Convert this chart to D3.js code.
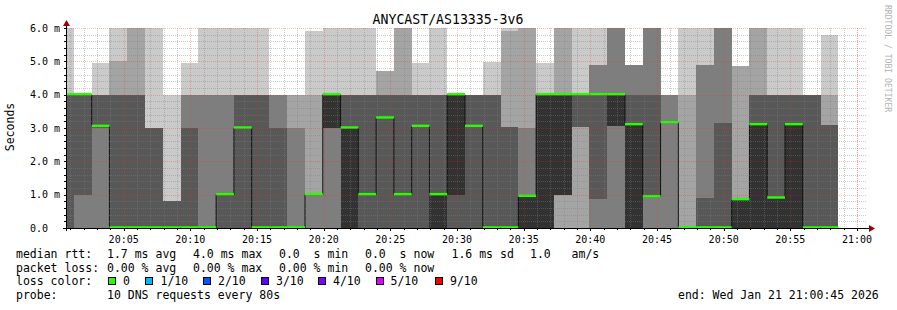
<!DOCTYPE html>
<html>
<head>
<meta charset="utf-8">
<script src="https://cdn.jsdelivr.net/npm/d3@7"></script>
<style>
  body { margin: 0; background: #fff; }
  text { font-family: "DejaVu Sans Mono", monospace; white-space: pre; }
</style>
</head>
<body>
<div id="chart"></div>
<script>
// 10 sorted ping times (ms) per 80 s step, p1 fastest .. p10 slowest
var p1  = [0,0,0,0,0,0,0,0,0,0, 0,0,0,0,0,0,0,0,0,0, 0,0,0,0,0,0,0,0,0,0, 0,0,0,0,0,0,0,0,0,0, 0,0,0,0];
var p2  = [0,0,0,0,0,0,0,0,0,0, 0,0,0,0,0,0,0,0,0,0, 0,0,0,0,0,0,0,0,0,0, 0,0,0,0,0,0,0,0,0,0, 0,0,0,0];
var p3  = [0,0,0,0,0,0,0,0,0,0, 0,0,0,0,0,0,0,0,0,0, 0,0,0,0,0,0,0,0,1,3.04, 0,0,0,0,0,0,0,0,0,0, 0,0,0,0];
var p4  = [0,1,3,0,0,0,0,0,0,0, 0,0,0,0,1,3,0,0,0,0, 0,0,0,0,0,0,0,0,1,3.04, 0.87,3.05,0,0.94,3.16,0,0,0,0,0, 0,0,0,0];
var p5  = [4,4,3.05,0,0,0,0,0,0,1, 3,0,0,0,1,3,0,1,3.3,1, 3.05,0,1,3.05,0,0,0,0,1,4, 4,3.05,0,0.94,3.16,0,0,0,0,0, 0,0,0,0];
var p6  = [4,4,3.05,0,0,0,0,0,0,1, 3,0,0,0,1,4,3,1,3.3,1, 3.05,1,4,3.05,0,0,0.95,4,4,4, 4,4,3.1,0.94,3.16,0,0,0,0.85,3.1, 0.9,3.1,0,0];
var p7  = [4,4,4,4,4,3,0.8,3,0,1, 4,4,3,0,1,4,4,4,4,4, 4,4,4,4,4,3.04,0.95,4,4,4, 4,4,4,4,3.16,0,0.9,3.15,0.85,4, 4,4,4,3.1];
var p8  = [4,4,4,4,4,3,0.8,4,4,4, 4,4,4,3,1,4,4,4,4,4, 4,4,4,4,4,3.04,3,4,4,4, 4.9,6,4.9,6,4,0,4.9,6,0.85,4, 4,4,4,3.1];
var p9  = [4,4,4,5,6,3,0.8,4,4,4, 4,4,4,4,4,4,4,4,4.7,6, 4,4,4,4,4,5.9,6,4,6,4, 4.9,6,4.9,6,4,4,4.9,6,4.85,6, 4,4,4,4];
var p10 = [6,4,4.95,6,6,6,4,4.95,6,6, 6,6,4,4,5.9,6,6,6,4.7,6, 4.95,6,4,4,4.97,6,6,4.95,6,6, 6,6,4.9,6,4,6,6,6,4.85,6, 6,6,4,5.8];
var median = [4,4,3.05,0,0,0,0,0,0,1, 3,0,0,0,1,4,3,1,3.3,1, 3.05,1,4,3.05,0,0,0.95,4,4,4, 4,4,3.1,0.94,3.16,0,0,0,0.85,3.1, 0.9,3.1,0,0];

var yTicks = [0, 1, 2, 3, 4, 5, 6];
var xTickLabels = ["20:05","20:10","20:15","20:20","20:25","20:30","20:35","20:40","20:45","20:50","20:55","21:00"];
var lossLabels = ["0", "1/10", "2/10", "3/10", "4/10", "5/10", "9/10"];
var lossColors = ["#26ff00", "#00b8ff", "#0059ff", "#5e00ff", "#7e00ff", "#dd00ff", "#ff0000"];
var smokeColors = ["#cacaca", "#a4a4a4", "#7e7e7e", "#585858", "#323232"];

var width = 897, height = 310;
var plot = {left: 67, right: 867, top: 28, bottom: 228};

var start = new Date(2026, 0, 21, 20, 0, 45),
    end = new Date(2026, 0, 21, 21, 0, 45),
    firstStep = new Date(2026, 0, 21, 20, 1, 16),
    step = 80 * 1000;

var pings = [p1, p2, p3, p4, p5, p6, p7, p8, p9, p10];
var cols = median.map(function (m, i) {
      var t0 = new Date(firstStep.getTime() + (i - 1) * step);
      return {
            t0: t0,
            t1: new Date(t0.getTime() + step),
            p: pings.map(function (a) { return Math.min(a[i], 6); }),
            median: m
      };
});

var x = d3.scaleTime().domain([start, end]).range([plot.left, plot.right]);
var y = d3.scaleLinear().domain([0, 6]).range([plot.bottom, plot.top]);

var svg = d3.select("#chart").append("svg")
      .attr("width", width)
      .attr("height", height)
      .style("display", "block");

svg.append("rect").attr("width", width).attr("height", height).attr("fill", "#fff");

svg.append("clipPath").attr("id", "plotclip")
      .append("rect")
      .attr("x", plot.left).attr("y", plot.top - 1)
      .attr("width", plot.right - plot.left).attr("height", plot.bottom - plot.top + 2);

var g = svg.append("g").attr("clip-path", "url(#plotclip)");

// smoke: outer pair first, each inner pair drawn over it
smokeColors.forEach(function (c, b) {
      g.append("g").selectAll("rect")
            .data(cols)
            .enter().append("rect")
            .attr("shape-rendering", "crispEdges")
            .attr("x", function (d) { return Math.round(x(d.t0)); })
            .attr("width", function (d) { return Math.round(x(d.t1)) - Math.round(x(d.t0)); })
            .attr("y", function (d) { return Math.round(y(d.p[9 - b])); })
            .attr("height", function (d) { return Math.round(y(d.p[b])) - Math.round(y(d.p[9 - b])); })
            .attr("fill", c);
});

// grid
var minorY = d3.range(0, 6.01, 0.2).filter(function (v) { return Math.abs(v - Math.round(v)) > 0.01; });
var minutes = d3.timeMinute.range(start, end);
var minorX = minutes.filter(function (t) { return t.getMinutes() % 5 !== 0; });
var majorX = minutes.filter(function (t) { return t.getMinutes() % 5 === 0; });
majorX.push(new Date(2026, 0, 21, 21, 0, 0));

var grid = svg.append("g").attr("stroke-dasharray", "1,1").attr("shape-rendering", "crispEdges");
grid.selectAll(".hmin").data(minorY).enter().append("line")
      .attr("x1", plot.left).attr("x2", plot.right)
      .attr("y1", function (d) { return Math.round(y(d)) + 0.5; })
      .attr("y2", function (d) { return Math.round(y(d)) + 0.5; })
      .attr("stroke", "rgba(128,128,128,0.4)");
grid.selectAll(".vmin").data(minorX).enter().append("line")
      .attr("y1", plot.top).attr("y2", plot.bottom)
      .attr("x1", function (d) { return Math.round(x(d)) + 0.5; })
      .attr("x2", function (d) { return Math.round(x(d)) + 0.5; })
      .attr("stroke", "rgba(128,128,128,0.4)");
grid.selectAll(".hmaj").data(yTicks.slice(1)).enter().append("line")
      .attr("x1", plot.left).attr("x2", plot.right)
      .attr("y1", function (d) { return Math.round(y(d)) + 0.5; })
      .attr("y2", function (d) { return Math.round(y(d)) + 0.5; })
      .attr("stroke", "rgba(255,40,40,0.3)");
grid.selectAll(".vmaj").data(majorX).enter().append("line")
      .attr("y1", plot.top).attr("y2", plot.bottom)
      .attr("x1", function (d) { return Math.round(x(d)) + 0.5; })
      .attr("x2", function (d) { return Math.round(x(d)) + 0.5; })
      .attr("stroke", "rgba(255,40,40,0.3)");

// median: thin dark step line, loss-coloured segments on top
var stepPts = cols.map(function (d) { return [x(d.t0), y(d.median)]; });
var last = cols[cols.length - 1];
stepPts.push([x(last.t1), y(last.median)]);
g.append("path")
      .attr("d", d3.line().curve(d3.curveStepAfter)(stepPts))
      .attr("fill", "none")
      .attr("stroke", "#111")
      .attr("stroke-width", 1);

g.append("g").selectAll("line")
      .data(cols)
      .enter().append("line")
      .attr("x1", function (d) { return x(d.t0); })
      .attr("x2", function (d) { return x(d.t1); })
      .attr("y1", function (d) { return y(d.median) - 0.5; })
      .attr("y2", function (d) { return y(d.median) - 0.5; })
      .attr("stroke", lossColors[0])
      .attr("stroke-width", 2.5);

// axes
var axisCol = "#000", arrowCol = "#9b0000";
svg.append("line").attr("x1", plot.left - 4).attr("x2", plot.right + 3)
      .attr("y1", plot.bottom + 0.5).attr("y2", plot.bottom + 0.5)
      .attr("stroke", axisCol);
svg.append("line").attr("x1", plot.left - 0.5).attr("x2", plot.left - 0.5)
      .attr("y1", plot.bottom + 3).attr("y2", plot.top - 3)
      .attr("stroke", axisCol);
svg.append("path").attr("d", "M" + (plot.right + 2) + "," + (plot.bottom - 3) + "L" + (plot.right + 8) + "," + (plot.bottom + 0.5) + "L" + (plot.right + 2) + "," + (plot.bottom + 4) + "Z")
      .attr("fill", arrowCol);
svg.append("path").attr("d", "M" + (plot.left - 4) + "," + (plot.top - 2) + "L" + (plot.left - 0.5) + "," + (plot.top - 8) + "L" + (plot.left + 3) + "," + (plot.top - 2) + "Z")
      .attr("fill", arrowCol);

// tick marks
svg.append("g").selectAll("line").data(minutes.concat([new Date(2026, 0, 21, 21, 0, 0)])).enter().append("line")
      .attr("x1", function (d) { return Math.round(x(d)) + 0.5; })
      .attr("x2", function (d) { return Math.round(x(d)) + 0.5; })
      .attr("y1", plot.bottom)
      .attr("y2", function (d) { return plot.bottom + (d.getMinutes() % 5 === 0 ? 3 : 2); })
      .attr("stroke", axisCol);
svg.append("g").selectAll("line").data(d3.range(0, 6.01, 0.2)).enter().append("line")
      .attr("x1", plot.left - 3).attr("x2", plot.left)
      .attr("y1", function (d) { return Math.round(y(d)) + 0.5; })
      .attr("y2", function (d) { return Math.round(y(d)) + 0.5; })
      .attr("stroke", axisCol);

// tick labels
svg.append("g").selectAll("text").data(yTicks).enter().append("text")
      .attr("x", 30)
      .attr("y", function (d) { return y(d) + 3.7; })
      .attr("font-size", "10px")
      .attr("fill", "#000")
      .text(function (d) { return d === 0 ? "0.0" : d3.format(".1f")(d) + " m"; });

var xTickTimes = xTickLabels.map(function (s) {
      var hm = s.split(":");
      return new Date(2026, 0, 21, +hm[0], +hm[1], 0);
});
svg.append("g").selectAll("text").data(xTickTimes).enter().append("text")
      .attr("x", function (d) { return x(d); })
      .attr("y", 242.5)
      .attr("text-anchor", "middle")
      .attr("font-size", "10px")
      .attr("fill", "#000")
      .text(function (d, i) { return xTickLabels[i]; });

// titles
svg.append("text").attr("x", 448).attr("y", 24).attr("text-anchor", "middle")
      .attr("font-size", "13.2px").attr("fill", "#000").text("ANYCAST/AS13335-3v6");
svg.append("text").attr("transform", "translate(14,127) rotate(-90)").attr("text-anchor", "middle")
      .attr("font-size", "11.5px").attr("fill", "#000").text("Seconds");
svg.append("text").attr("transform", "translate(885,5) rotate(90)")
      .attr("font-size", "8.1px").attr("fill", "#b4b4b4").text("RRDTOOL / TOBI OETIKER");

// legend
var legend = svg.append("g").attr("font-size", "11.5px").attr("fill", "#000");
var legendRows = [
      [[16, "median rtt:"], [107, "1.7 ms avg"], [193, "4.0 ms max"], [279, "0.0  s min"], [365, "0.0  s now"], [451.5, "1.6 ms sd"], [530, "1.0   am/s"]],
      [[16, "packet loss:"], [107, "0.00 % avg"], [193, "0.00 % max"], [279, "0.00 % min"], [365, "0.00 % now"]],
      [[16, "loss color:"]],
      [[16, "probe:"], [107, "10 DNS requests every 80s"], [678, "end: Wed Jan 21 21:00:45 2026"]]
];
var rowY = [258, 271.5, 285, 298.5];
legendRows.forEach(function (row, r) {
      row.forEach(function (it) {
            legend.append("text").attr("x", it[0]).attr("y", rowY[r]).text(it[1]);
      });
});
var boxX = [108.5, 145.5, 203.5, 261.5, 318.5, 376.5, 435.5];
var labX = [123, 160.5, 218, 276, 333, 390.5, 450];
lossLabels.forEach(function (l, i) {
      legend.append("rect").attr("x", boxX[i]).attr("y", 277.5).attr("width", 7).attr("height", 7)
            .attr("fill", lossColors[i]).attr("stroke", "#000").attr("stroke-width", 1);
      legend.append("text").attr("x", labX[i]).attr("y", rowY[2]).text(l);
});
</script>
</body>
</html>
